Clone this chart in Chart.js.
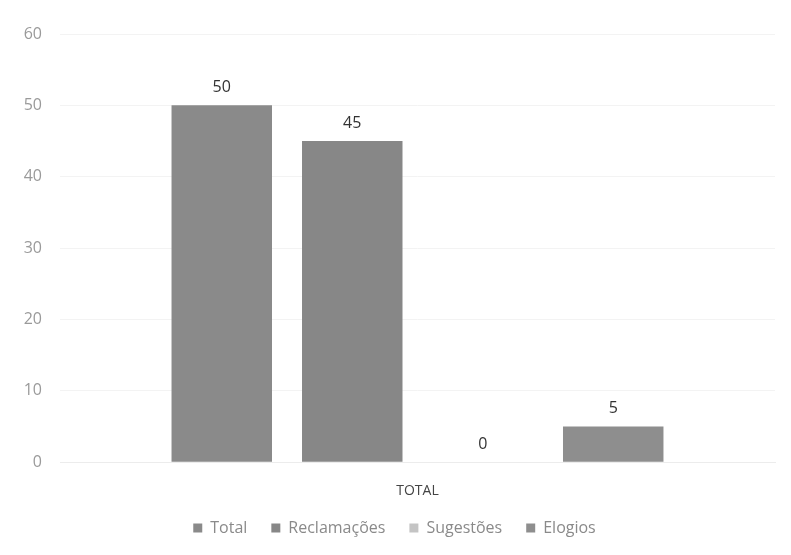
<!DOCTYPE html>
<html>
<head>
<meta charset="utf-8">
<script src="https://cdn.jsdelivr.net/npm/chart.js@4"></script>
<style>
  html, body { margin: 0; padding: 0; background: #fff; }
  #wrap { width: 791px; height: 555px; }
</style>
</head>
<body>
<div id="wrap"><canvas id="chart" width="791" height="555"></canvas></div>
<script>
// categories and series
const categories = ['TOTAL'];
const seriesNames = ['Total', 'Reclamações', 'Sugestões', 'Elogios'];
const totalValues = [50];
const reclamacoesValues = [45];
const sugestoesValues = [0];
const elogiosValues = [5];
const seriesColors = ['#8a8a8a', '#878787', '#c4c4c4', '#8e8e8e'];

// draws the number above every bar
const valueLabels = {
    id: 'valueLabels',
    afterDatasetsDraw(chart) {
        const ctx = chart.ctx;
        ctx.save();
        ctx.font = '16px "Open Sans", sans-serif';
        ctx.fillStyle = '#333';
        ctx.textAlign = 'center';
        ctx.textBaseline = 'bottom';
        chart.data.datasets.forEach((ds, i) => {
            chart.getDatasetMeta(i).data.forEach((bar, j) => {
                ctx.fillText(ds.data[j], bar.x, bar.y - 10);
            });
        });
        ctx.restore();
    }
};

const allValues = [totalValues, reclamacoesValues, sugestoesValues, elogiosValues];

new Chart(document.getElementById('chart'), {
    type: 'bar',
    data: {
        labels: categories,
        datasets: seriesNames.map((name, i) => ({
            label: name,
            data: allValues[i],
            backgroundColor: seriesColors[i],
            barPercentage: 0.77,
            categoryPercentage: 0.73
        }))
    },
    options: {
        responsive: false,
        animation: false,
        layout: { padding: { top: 34, right: 16, left: 14, bottom: 9 } },
        scales: {
            x: {
                grid: { display: false },
                border: { display: true, color: '#ececec' },
                ticks: { color: '#444', font: { family: 'Open Sans', size: 14 }, padding: 12 },
                afterFit(scale) { scale.height -= 15; }
            },
            y: {
                min: 0, max: 60,
                ticks: { stepSize: 10, color: '#9a9a9a', font: { family: 'Open Sans', size: 16 }, padding: 18 },
                grid: { color: '#f3f3f3', drawTicks: false },
                border: { display: false },
                afterFit(scale) { scale.width = 46; }
            }
        },
        plugins: {
            legend: {
                position: 'bottom',
                labels: { boxWidth: 9, boxHeight: 9, color: '#8a8a8a', font: { family: 'Open Sans', size: 16 }, padding: 24 }
            },
            tooltip: { enabled: false }
        }
    },
    plugins: [valueLabels]
});
</script>
</body>
</html>
